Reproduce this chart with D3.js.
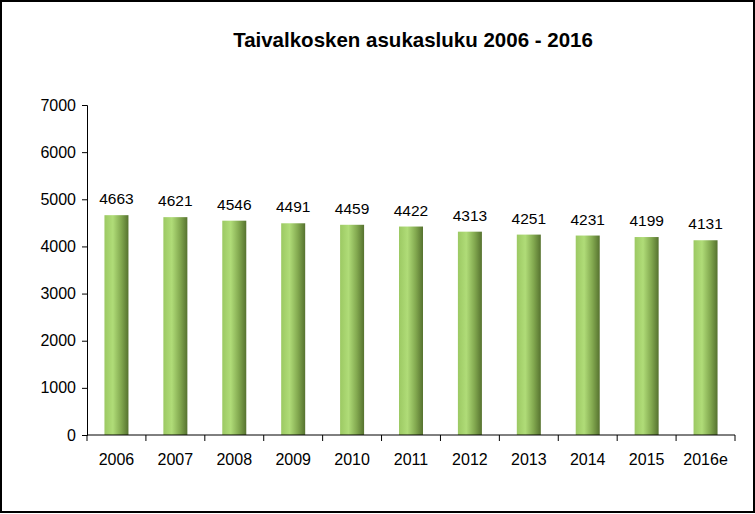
<!DOCTYPE html>
<html>
<head>
<script src="https://cdnjs.cloudflare.com/ajax/libs/d3/7.8.5/d3.min.js"></script>
<style>
  body { margin: 0; background: #fff; }
  text { font-family: Arial, "Liberation Sans", sans-serif; fill: #000; }
</style>
</head>
<body>
<svg id="chart" width="755" height="514"></svg>
<script>
const years = ["2006","2007","2008","2009","2010","2011","2012","2013","2014","2015","2016e"];
const population = [4663,4621,4546,4491,4459,4422,4313,4251,4231,4199,4131];
const yTicks = [0,1000,2000,3000,4000,5000,6000,7000];

const svg = d3.select("#chart");
const margin = {top: 105, right: 20, bottom: 79, left: 87};
const width = 755 - margin.left - margin.right;
const height = 514 - margin.top - margin.bottom;

// outer frame
svg.append("rect").attr("x", 1).attr("y", 1).attr("width", 753).attr("height", 511)
  .attr("fill", "none").attr("stroke", "#000").attr("stroke-width", 2);

svg.append("text").attr("x", 413).attr("y", 47).attr("text-anchor", "middle")
  .style("font-size", "20.5px").style("font-weight", "bold")
  .text("Taivalkosken asukasluku 2006 - 2016");

const defs = svg.append("defs");
const grad = defs.append("linearGradient").attr("id", "barGrad")
  .attr("x1", "0%").attr("x2", "100%").attr("y1", "0%").attr("y2", "0%");
grad.append("stop").attr("offset", "0%").attr("stop-color", "#9cc963");
grad.append("stop").attr("offset", "35%").attr("stop-color", "#b0dc78");
grad.append("stop").attr("offset", "70%").attr("stop-color", "#82a84f");
grad.append("stop").attr("offset", "100%").attr("stop-color", "#56722f");

const g = svg.append("g").attr("transform", `translate(${margin.left},${margin.top})`);

const x = d3.scaleBand().domain(years).range([0, width]);
const y = d3.scaleLinear().domain([0, 7000]).range([height, 0]);

const barW = 24;
g.selectAll(".bar").data(years).enter().append("rect")
  .attr("x", d => x(d) + x.bandwidth() / 2 - barW / 2)
  .attr("width", barW)
  .attr("y", (d, i) => y(population[i]))
  .attr("height", (d, i) => height - y(population[i]))
  .attr("fill", "url(#barGrad)");

g.selectAll(".lbl").data(years).enter().append("text")
  .attr("x", d => x(d) + x.bandwidth() / 2)
  .attr("y", (d, i) => y(population[i]) - 11)
  .attr("text-anchor", "middle").style("font-size", "15.5px")
  .text((d, i) => population[i]);

// y axis
const yAxis = g.append("g").call(d3.axisLeft(y).tickValues(yTicks).tickSize(5).tickFormat(d3.format("d")));
yAxis.selectAll("text").style("font-size", "16px").attr("dx", "-3px");

// x axis with ticks at category boundaries
const xg = g.append("g").attr("transform", `translate(0,${height})`);
xg.append("line").attr("x1", 0).attr("x2", width).attr("stroke", "#000");
xg.selectAll(".tk").data(years.concat(["end"])).enter().append("line")
  .attr("x1", (d, i) => i * x.bandwidth()).attr("x2", (d, i) => i * x.bandwidth())
  .attr("y1", 0).attr("y2", 6).attr("stroke", "#000");
xg.selectAll(".xl").data(years).enter().append("text")
  .attr("x", d => x(d) + x.bandwidth() / 2).attr("y", 30)
  .attr("text-anchor", "middle").style("font-size", "16px").text(d => d);

svg.selectAll(".domain, .tick line").attr("stroke", "#000");
</script>
</body>
</html>
